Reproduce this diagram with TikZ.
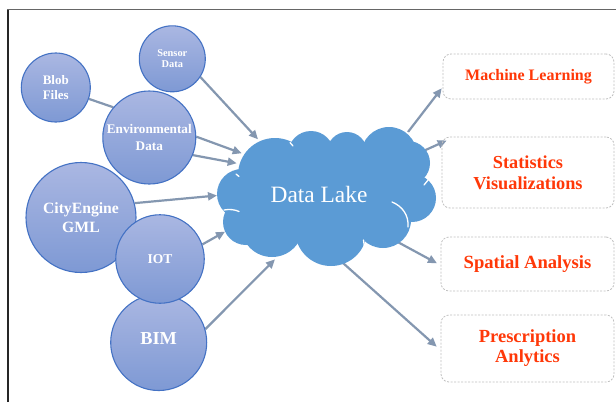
\documentclass[tikz,border=0pt]{standalone}
\usepackage{fontspec}
\setmainfont{Liberation Serif}
\usetikzlibrary{arrows.meta,shapes.geometric}
\definecolor{circfillt}{RGB}{170,183,226}
\definecolor{circfillb}{RGB}{126,153,212}
\definecolor{circline}{RGB}{68,114,196}
\definecolor{cloudc}{RGB}{91,155,213}
\definecolor{arrowc}{RGB}{132,151,176}
\definecolor{redtxt}{RGB}{255,56,8}
\definecolor{boxline}{RGB}{192,192,192}
\pgfdeclarelayer{back}
\pgfdeclarelayer{paper}
\pgfsetlayers{paper,back,main}
\begin{document}
\begin{tikzpicture}[x=1pt,y=-1pt,
  bubble/.style={circle, draw=circline, line width=1.1pt, top color=circfillt, bottom color=circfillb, inner sep=0pt, text=white, align=center},
  flow/.style={draw=arrowc, line width=2.2pt, -{Triangle[length=9pt,width=8pt]}},
  link/.style={draw=arrowc, line width=2.2pt},
  outbox/.style={draw=boxline, rounded corners=8pt, dash pattern=on 2pt off 1.5pt, line width=0.8pt, text=redtxt, align=center, inner sep=0pt},
  puff/.style={fill=cloudc},
  notch/.style={draw=white, line width=1.3pt, line cap=round},
  frameline/.style={line width=1.3pt}
]
\useasboundingbox (0,0) rectangle (616,402);
\begin{pgfonlayer}{paper}
\fill[white] (0,0) rectangle (616,402);
\end{pgfonlayer}
% frame
\draw[frameline, black!85] (8,402) -- (8,9.5);
\draw[frameline, black!60, line width=1.1pt] (7.4,9.5) -- (616,9.5);

% cloud
\fill[puff] (328,195) ellipse [x radius=80pt, y radius=45pt];
\foreach \cx/\cy/\r in {275/175/37, 311/154/23, 347/152/20, 389/155/28, 408/163/22,
  412/198/24, 383/220/28, 331/230/36, 272/226/31, 246/222/23, 242/194/25}
  \fill[puff] (\cx,\cy) circle [radius=\r pt];
\draw[notch] (392,202) .. controls (402,206) and (409,215) .. (408,227);
\draw[notch] (224,210) .. controls (229,209) and (235,209.5) .. (239,211.5);
\draw[notch] (424,185) -- (428.5,179.5);
\draw[notch] (408.5,133) -- (411.5,137);
\draw[notch] (290,142.5) -- (293,146);
\draw[notch] (236,174) -- (239,176.5);
\draw[notch] (297,247) -- (299.5,251.5);
\draw[notch] (363.5,240) -- (364.5,247);
\node[text=white, font=\fontsize{23.4}{28}\selectfont, inner sep=0pt] (lake) at (319,194) {Data Lake};

% source bubbles
\node[bubble, minimum size=69pt, font=\bfseries\fontsize{13}{15.3}\selectfont] (blob) at (55.8,87.5) {Blob\\Files};
\node[bubble, minimum size=66pt, font=\bfseries\fontsize{10.4}{11.3}\selectfont] (sensor) at (172.3,58.8) {Sensor\\Data};
\node[bubble, minimum size=110pt, font=\bfseries\fontsize{15.7}{19.3}\selectfont] (city) at (81,217.5) {CityEngine\\GML};
\node[bubble, minimum size=93pt, font=\bfseries\fontsize{13.2}{16.3}\selectfont] (env) at (149.3,137.5) {Environmental\\Data};
\node[bubble, minimum size=96pt, text depth=8pt, font=\bfseries\fontsize{18.3}{22}\selectfont] (bim) at (158.7,342.5) {BIM};
\node[bubble, minimum size=88.5pt, font=\bfseries\fontsize{13.5}{16}\selectfont] (iot) at (160,259) {IOT};

% output boxes
\node[outbox, minimum width=171pt, minimum height=45pt, font=\bfseries\fontsize{16}{19}\selectfont] (ml) at (528.5,76.5) {Machine Learning};
\node[outbox, minimum width=172pt, minimum height=71pt, font=\bfseries\fontsize{18.3}{21.3}\selectfont] (st) at (528,172.5) {Statistics\\Visualizations};
\node[outbox, minimum width=173pt, minimum height=54pt, font=\bfseries\fontsize{18.6}{22}\selectfont] (sp) at (527.5,264) {Spatial Analysis};
\node[outbox, minimum width=173pt, minimum height=67pt, font=\bfseries\fontsize{18.5}{20}\selectfont] (pa) at (527.5,348.5) {Prescription\\Anlytics};

% connector end points
\coordinate (tS) at (258,139.3);
\coordinate (tE1) at (241.7,153.3);
\coordinate (tE2) at (236.7,163.3);
\coordinate (tC) at (217,195.5);
\coordinate (tI) at (225,231.7);
\coordinate (tB) at (275,259.3);
\coordinate (oM) at (408,132);
\coordinate (tM) at (441.7,88.3);
\coordinate (oS) at (424,150.7);
\coordinate (tSt) at (446.7,140.5);
\coordinate (oP) at (394,240);
\coordinate (tSp) at (437,263.3);
\coordinate (oR) at (343,263);
\coordinate (tR) at (436.7,346.7);

\begin{pgfonlayer}{back}
\draw[link] (blob.-19) -- (env.140);
\draw[flow] (sensor.-33) -- (tS);
\draw[flow] (env.1) -- (tE1);
\draw[flow] (env.-22) -- (tE2);
\draw[flow] (city.15) -- (tC);
\draw[flow] (iot.19) -- (tI);
\draw[flow] (bim.16) -- (tB);
\draw[flow] (oM) -- (tM);
\draw[flow] (oS) -- (tSt);
\draw[flow] (oP) -- (tSp);
\draw[flow] (oR) -- (tR);
\end{pgfonlayer}
\end{tikzpicture}
\end{document}
